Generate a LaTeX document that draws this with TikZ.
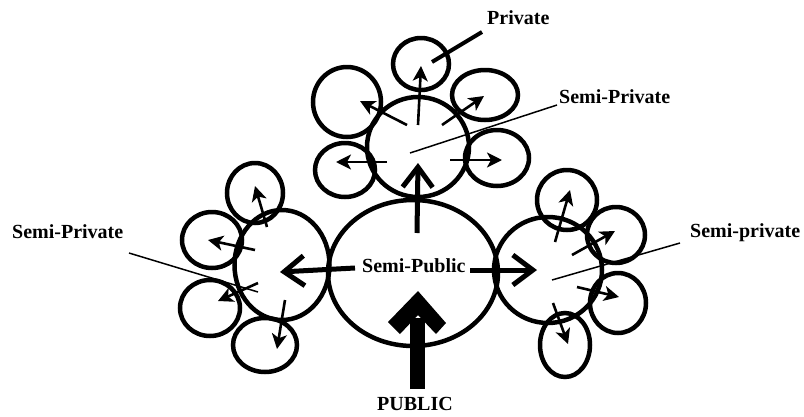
\documentclass[tikz,border=0pt]{standalone}
\usepackage{fontspec}
\setmainfont{Liberation Serif}
\usetikzlibrary{shapes.geometric,arrows.meta}
\tikzset{
  bub/.style={draw, ellipse, line width=4.5pt, inner sep=0pt},
  small/.style={line width=2.6pt, -{Stealth[length=15pt,width=15pt,inset=4pt]}},
  big/.style={line width=5pt, -{Straight Barb[length=20pt,width=30pt]}},
  leader/.style={line width=1.5pt},
  lab/.style={font=\fontsize{20}{24}\selectfont\bfseries, inner sep=0pt, anchor=base west}
}
\begin{document}
\begin{tikzpicture}[x=1pt,y=-1pt]
\useasboundingbox (0,0) rectangle (804,416);
% circles
\node[bub, minimum width=170pt, minimum height=146pt] (main) at (413,273) {};
\node[bub, minimum width=102pt, minimum height=100pt] (top) at (418,147) {};
\node[bub, minimum width=95pt, minimum height=110pt] (left) at (282,265) {};
\node[bub, minimum width=108pt, minimum height=106pt] (right) at (548,270) {};
% top satellites
\node[bub, minimum width=56pt, minimum height=52pt] (tP) at (421,64) {};
\node[bub, minimum width=68pt, minimum height=70pt] (tUL) at (347,102) {};
\node[bub, minimum width=66pt, minimum height=50pt] (tUR) at (485,95) {};
\node[bub, minimum width=60pt, minimum height=54pt] (tLL) at (345,170) {};
\node[bub, minimum width=64pt, minimum height=56pt] (tLR) at (497,158) {};
% left satellites
\node[bub, minimum width=56pt, minimum height=60pt] (lT) at (255,193) {};
\node[bub, minimum width=60pt, minimum height=56pt] (lUL) at (212,240) {};
\node[bub, minimum width=60pt, minimum height=56pt] (lLL) at (210,308) {};
\node[bub, minimum width=64pt, minimum height=54pt] (lB) at (265,345) {};
% right satellites
\node[bub, minimum width=60pt, minimum height=60pt] (rT) at (567,200) {};
\node[bub, minimum width=58pt, minimum height=56pt] (rUR) at (616,235) {};
\node[bub, minimum width=56pt, minimum height=60pt] (rLR) at (618,303) {};
\node[bub, minimum width=50pt, minimum height=64pt] (rB) at (565,345) {};
% arrow coordinates
\coordinate (tA1) at (418,125); \coordinate (tA1e) at (421,66);
\coordinate (tA2) at (407,125); \coordinate (tA2e) at (360,101);
\coordinate (tA3) at (442,125); \coordinate (tA3e) at (484,96);
\coordinate (tA4) at (387,162); \coordinate (tA4e) at (336,162);
\coordinate (tA5) at (450,160); \coordinate (tA5e) at (502,160);
\coordinate (lA1) at (267,227); \coordinate (lA1e) at (255,186);
\coordinate (lA2) at (255,250); \coordinate (lA2e) at (208,240);
\coordinate (lA3) at (258,283); \coordinate (lA3e) at (218,301);
\coordinate (lA4) at (285,300); \coordinate (lA4e) at (277,349);
\coordinate (rA1) at (555,242); \coordinate (rA1e) at (570,190);
\coordinate (rA2) at (572,255); \coordinate (rA2e) at (615,231);
\coordinate (rA3) at (577,287); \coordinate (rA3e) at (619,297);
\coordinate (rA4) at (553,303); \coordinate (rA4e) at (568,344);
\coordinate (mU) at (417,233); \coordinate (mUe) at (418,163);
\coordinate (mL) at (355,268); \coordinate (mLe) at (280,272);
\coordinate (mR) at (470,270); \coordinate (mRe) at (537,270);
% small arrows
\draw[small] (tA1) -- (tA1e);
\draw[small] (tA2) -- (tA2e);
\draw[small] (tA3) -- (tA3e);
\draw[small] (tA4) -- (tA4e);
\draw[small] (tA5) -- (tA5e);
\draw[small] (lA1) -- (lA1e);
\draw[small] (lA2) -- (lA2e);
\draw[small] (lA3) -- (lA3e);
\draw[small] (lA4) -- (lA4e);
\draw[small] (rA1) -- (rA1e);
\draw[small] (rA2) -- (rA2e);
\draw[small] (rA3) -- (rA3e);
\draw[small] (rA4) -- (rA4e);
% big arrows
\draw[big] (mU) -- (mUe);
\draw[big] (mL) -- (mLe);
\draw[big] (mR) -- (mRe);
% public arrow
\coordinate (pS) at (417,389); \coordinate (pE) at (417,318);
\draw[line width=15pt] (pS) -- (pE);
\fill (418,291) -- (446,323) -- (436,334) -- (418,315) -- (400,334) -- (388,322) -- cycle;
% labels
\node[lab] (lPriv) at (487,24) {Private};
\node[lab] (lTop) at (559,103) {Semi-Private};
\node[lab] (lLeft) at (12,238) {Semi-Private};
\node[lab] (lRight) at (690,237) {Semi-private};
\node[lab] (lMain) at (362,272) {Semi-Public};
\node[lab] (lPub) at (377,410) {PUBLIC};
% leader lines
\coordinate (c1) at (432,62); \coordinate (c1e) at (482,32);
\coordinate (c2) at (410,153); \coordinate (c2e) at (557,105);
\coordinate (c3) at (258,292); \coordinate (c3e) at (129,253);
\coordinate (c4) at (552,280); \coordinate (c4e) at (680,243);
\draw[line width=4pt] (c1) -- (c1e);
\draw[leader] (c2) -- (c2e);
\draw[leader] (c3) -- (c3e);
\draw[leader] (c4) -- (c4e);
\end{tikzpicture}
\end{document}
